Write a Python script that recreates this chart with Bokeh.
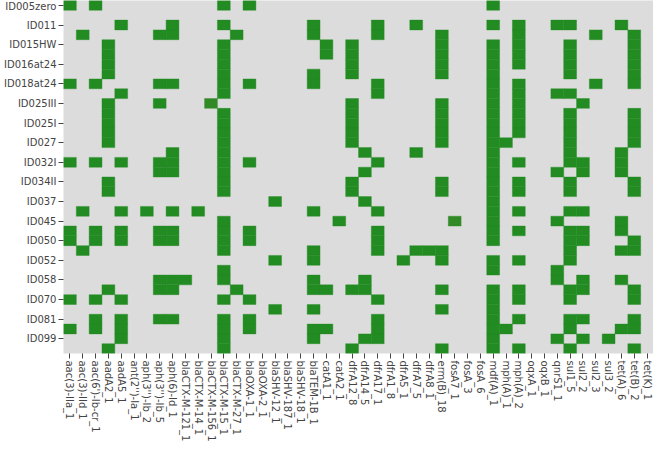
import math
from bokeh.plotting import figure
from bokeh.models import FactorRange, Range1d, FixedTicker, ColumnDataSource
from bokeh.embed import file_html
from bokeh.resources import INLINE

genes = ["aac(3)-IIa_1", "aac(3)-IId_1", "aac(6')-Ib-cr_1", "aadA2_1", "aadA5_1",
         "ant(2'')-Ia_1", "aph(3'')-Ib_2", "aph(3'')-Ib_5", "aph(6)-Id_1",
         "blaCTX-M-121_1", "blaCTX-M-14_1", "blaCTX-M-156_1", "blaCTX-M-15_1",
         "blaCTX-M-27_1", "blaOXA-1_1", "blaOXA-2_1", "blaSHV-12_1", "blaSHV-187_1",
         "blaSHV-18_1", "blaTEM-1B_1", "catA1_1", "catA2_1", "dfrA12_8", "dfrA14_5",
         "dfrA17_1", "dfrA1_8", "dfrA5_1", "dfrA7_5", "dfrA8_1", "erm(B)_18",
         "fosA7_1", "fosA_3", "fosA_6", "mdf(A)_1", "mph(A)_1", "mph(A)_2",
         "oqxA_1", "oqxB_1", "qnrS1_1", "sul1_5", "sul2_2", "sul2_3", "sul3_2",
         "tet(A)_6", "tet(B)_2", "tet(K)_1"]

# labels shown on every other row (rows 0, 2, 4, ...)
sample_labels = ["ID005zero", "ID011", "ID015HW", "ID016at24", "ID018at24",
                 "ID025III", "ID025I", "ID027", "ID032I", "ID034II", "ID037",
                 "ID045", "ID050", "ID052", "ID058", "ID070", "ID081", "ID099"]

# gene indices present in each of the 36 rows (top to bottom)
present = [
    [0, 2, 12, 14, 33],
    [],
    [4, 8, 12, 19, 24, 27, 33, 35, 38, 39, 43],
    [1, 7, 8, 13, 19, 24, 29, 35, 41, 44],
    [3, 12, 20, 22, 29, 33, 35, 39, 44],
    [3, 12, 20, 22, 29, 33, 35, 39, 44],
    [3, 12, 22, 29, 33, 35, 39, 44],
    [3, 12, 19, 22, 29, 33, 39, 44],
    [0, 2, 7, 8, 12, 14, 19, 24, 33, 35, 41, 44],
    [4, 12, 24, 33, 35, 38, 39],
    [3, 7, 11, 22, 29, 33, 35, 40],
    [3, 12, 22, 29, 33, 35, 39, 44],
    [3, 12, 22, 29, 33, 35, 39, 44],
    [3, 12, 22, 29, 33, 35, 39, 44],
    [3, 12, 22, 29, 33, 34, 39, 44],
    [8, 12, 23, 27, 33, 39, 43],
    [0, 2, 4, 7, 8, 12, 14, 24, 33, 35, 39, 40, 43],
    [7, 8, 12, 23, 33, 38, 40, 43],
    [3, 12, 22, 29, 33, 35, 39, 44],
    [3, 12, 22, 29, 33, 35, 39, 44],
    [16, 23, 33],
    [1, 4, 6, 8, 10, 19, 24, 33, 35, 39, 40],
    [12, 21, 30, 33, 38, 43],
    [0, 2, 4, 7, 8, 12, 14, 24, 33, 35, 39, 40, 43],
    [0, 2, 4, 7, 8, 12, 14, 24, 33, 39, 40, 44],
    [1, 12, 19, 24, 27, 28, 29, 39, 43, 44],
    [16, 19, 26, 29, 33, 35, 39],
    [12, 33, 38],
    [7, 8, 9, 12, 19, 23, 38, 40, 43],
    [3, 7, 8, 13, 19, 20, 22, 23, 29, 33, 35, 39, 40, 44],
    [0, 2, 4, 12, 14, 24, 33, 35, 39, 44],
    [16, 19, 29, 33],
    [2, 4, 7, 8, 12, 14, 24, 33, 35, 39, 40, 44],
    [0, 2, 4, 12, 14, 19, 20, 24, 33, 34, 39, 43, 44],
    [4, 12, 19, 23, 24, 33, 38, 40, 42],
    [3, 12, 22, 29, 33, 35, 39, 44],
]

# cells with a partial (weaker) hit: (row, gene index)
partial = [(10, 11), (22, 30)]

FULL = "#228B22"
PART = "#318A26"

xs, ys, cols = [], [], []
for r, idxs in enumerate(present):
    for g in idxs:
        xs.append(genes[g])
        ys.append(r)
        cols.append(PART if (r, g) in partial else FULL)
src = ColumnDataSource(dict(gene=xs, row=ys, color=cols))

n_rows = len(present)
p = figure(x_range=FactorRange(factors=genes, range_padding=0),
           y_range=Range1d(n_rows - 0.5, -0.5),
           width=653, height=444, output_backend="svg", toolbar_location=None,
           min_border_left=0, min_border_right=0, min_border_top=0,
           min_border_bottom=0, title=None)

p.rect(x="gene", y="row", width=1, height=1, source=src,
       fill_color="color", line_color="color", line_width=0.4)

p.background_fill_color = "#DCDCDC"
p.border_fill_color = "white"
p.outline_line_color = None
p.xgrid.visible = False
p.ygrid.visible = False

tick_rows = list(range(0, n_rows, 2))
p.yaxis.ticker = FixedTicker(ticks=tick_rows)
p.yaxis.major_label_overrides = {r: lab for r, lab in zip(tick_rows, sample_labels)}
p.yaxis.minor_tick_line_color = None

for ax in (p.xaxis[0], p.yaxis[0]):
    ax.axis_line_color = None
    ax.major_tick_line_color = "#444444"
    ax.major_tick_out = 5
    ax.major_tick_in = 0
    ax.major_label_text_font = "DejaVu Sans"
    ax.major_label_text_font_size = "10px"
    ax.major_label_text_color = "#444444"
    ax.major_label_standoff = 2

p.xaxis.major_label_orientation = -math.pi / 2

open("out.html", "w").write(file_html(p, INLINE))
